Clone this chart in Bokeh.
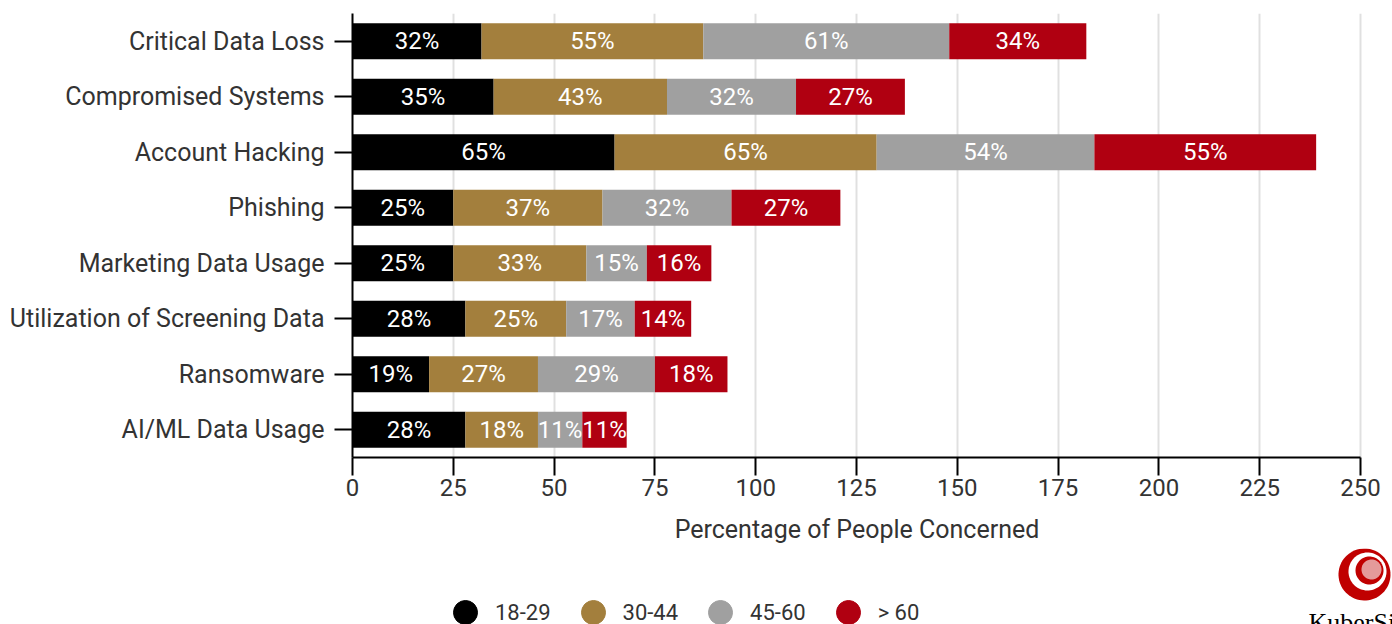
import numpy as np
from bokeh.plotting import figure
from bokeh.layouts import column
from bokeh.models import ColumnDataSource, FactorRange, Range1d, Legend, LegendItem, PolyAnnotation, Label, FixedTicker
from bokeh.core.properties import value
from bokeh.embed import file_html
from bokeh.resources import INLINE

categories = ["Critical Data Loss", "Compromised Systems", "Account Hacking", "Phishing",
              "Marketing Data Usage", "Utilization of Screening Data", "Ransomware", "AI/ML Data Usage"]
groups = ["18-29", "30-44", "45-60", "> 60"]
v_18_29 = [32, 35, 65, 25, 25, 28, 19, 28]
v_30_44 = [55, 43, 65, 37, 33, 25, 27, 18]
v_45_60 = [61, 32, 54, 32, 15, 17, 29, 11]
v_60p = [34, 27, 55, 27, 16, 14, 18, 11]
colors = ["#000000", "#a37f3d", "#a0a0a0", "#b00011"]
x_ticks = [0, 25, 50, 75, 100, 125, 150, 175, 200, 225, 250]
x_label = "Percentage of People Concerned"
logo_text = "KuberSight"

FONT = "Roboto"
TXT = "#333333"
W, H = 1392, 624
TOP_H = 548
FRAME_L = 352
AXIS_MAX = 250
AXIS_PX = 1008  # pixels from 0 to 250
x_end = AXIS_MAX * (W - FRAME_L) / AXIS_PX

series = [v_18_29, v_30_44, v_45_60, v_60p]
keys = ["g0", "g1", "g2", "g3"]
data = {"cat": categories}
for k, s in zip(keys, series):
    data[k] = s
src = ColumnDataSource(data)

p = figure(width=W, height=TOP_H, y_range=FactorRange(factors=categories[::-1]),
           x_range=Range1d(0, x_end), output_backend="svg", toolbar_location=None,
           min_border_left=FRAME_L, min_border_right=0, min_border_top=13,
           min_border_bottom=TOP_H - 457)

p.hbar_stack(keys, y="cat", height=0.65, color=colors, line_color=None, source=src)

# labels in segment centers
lx, ly, lt = [], [], []
for i, c in enumerate(categories):
    left = 0
    for s in series:
        v = s[i]
        lx.append(left + v / 2)
        ly.append(c)
        lt.append(f"{v}%")
        left += v
p.text(x=lx, y=ly, text=lt, text_align="center", text_baseline="middle",
       text_color="white", text_font=value(FONT), text_font_size="24px")

# axes (label padded so it centres over the 0-250 span rather than the wider frame)
p.xaxis.ticker = FixedTicker(ticks=x_ticks)
p.xaxis.bounds = (0, AXIS_MAX)
p.xaxis.axis_label = x_label + "\u00a0" * 5
p.xaxis.axis_label_text_font = FONT
p.xaxis.axis_label_text_font_size = "25px"
p.xaxis.axis_label_text_font_style = "normal"
p.xaxis.axis_label_text_color = TXT
p.xaxis.axis_label_standoff = 16
p.axis.major_label_text_font = FONT
p.axis.major_label_text_color = TXT
p.xaxis.major_label_text_font_size = "24px"
p.yaxis.major_label_text_font_size = "25px"
p.axis.axis_line_color = "black"
p.axis.axis_line_width = 2
p.axis.major_tick_line_color = "black"
p.axis.major_tick_line_width = 2
p.axis.major_tick_out = 18
p.axis.major_tick_in = 0
p.axis.minor_tick_line_color = None
p.xaxis.major_label_standoff = 3
p.yaxis.major_label_standoff = 10

p.ygrid.grid_line_color = None
p.xgrid.grid_line_color = "#e0e0e0"
p.xgrid.grid_line_width = 2
p.outline_line_color = None

# bottom strip: legend and logo (canvas-pixel coordinates)
b = figure(width=W, height=H - TOP_H, x_range=Range1d(FRAME_L, W), y_range=Range1d(H, TOP_H),
           output_backend="svg", toolbar_location=None,
           min_border_left=FRAME_L, min_border_right=0, min_border_top=0, min_border_bottom=0)
b.axis.visible = False
b.grid.visible = False
b.outline_line_color = None

items = []
for g, c in zip(groups, colors):
    r = b.scatter(x=[np.nan], y=[np.nan], marker="circle", size=24, fill_color=c, line_color=c)
    items.append(LegendItem(label=g, renderers=[r]))
legend = Legend(items=items, orientation="horizontal", location=(435 - FRAME_L, -18),
                glyph_width=60, glyph_height=60, label_standoff=0, spacing=12,
                padding=0, margin=0, border_line_color=None, background_fill_alpha=0,
                label_text_font=FONT, label_text_font_size="22px", label_text_color=TXT)
b.add_layout(legend)

def disk(cx, cy, r, color):
    t = np.linspace(0, 2 * np.pi, 72)
    return PolyAnnotation(xs=list(cx + r * np.cos(t)), ys=list(cy + r * np.sin(t)),
                          fill_color=color, fill_alpha=1, line_color=None)

b.add_layout(disk(1364, 574, 26, "#c00000"))
b.add_layout(disk(1367, 571, 19, "white"))
b.add_layout(disk(1369, 570, 14, "#c00000"))
b.add_layout(disk(1371, 569, 10, "#e49a9a"))
b.add_layout(Label(x=1308, y=607, text=logo_text, text_font="Liberation Serif",
                   text_font_size="26px", text_color="black", text_baseline="top"))

layout = column(p, b, spacing=0)
open("out.html", "w").write(file_html(layout, INLINE))
